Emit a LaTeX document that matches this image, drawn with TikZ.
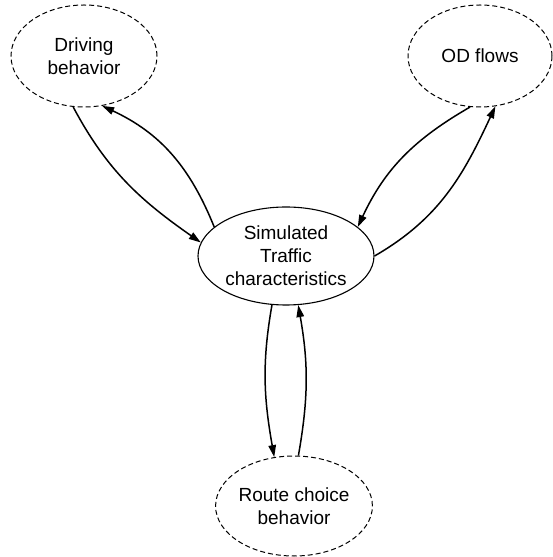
\documentclass[tikz,border=0pt]{standalone}
\usepackage{fontspec}
\setmainfont{Liberation Sans}
\usetikzlibrary{shapes.geometric,arrows.meta}
\begin{document}
\begin{tikzpicture}[x=1pt,y=1pt,
  model/.style={ellipse,draw,line width=1pt,dash pattern=on 5pt off 3pt,
    align=center,font=\fontsize{19}{23}\selectfont,inner sep=0pt},
  core/.style={ellipse,draw,line width=1.1pt,
    align=center,font=\fontsize{19}{23}\selectfont,inner sep=0pt},
  link/.style={line width=1.5pt,-{Triangle[length=12pt,width=7.5pt]}}]
\useasboundingbox (0,0) rectangle (553,557);
% model components
\node[model,minimum width=146pt,minimum height=102pt] (drv) at (84,501) {Driving\\behavior};
\node[model,minimum width=144pt,minimum height=102pt] (od) at (480,501) {OD flows};
\node[core,minimum width=176pt,minimum height=98pt] (sim) at (286,301) {Simulated\\Traffic\\characteristics};
\node[model,minimum width=130pt,minimum height=100pt] (rte) at (294,51) {Route choice\\behavior};
% feedback loops
\draw[link] (drv.258) to[out=-62,in=145] (sim.171);
\draw[link] (sim.158) to[out=112,in=-25] (drv.290);
\draw[link] (sim.0) to[out=30,in=-115] (od.287);
\draw[link] (od.259) to[out=210,in=65] (sim.22);
\draw[link] (sim.254) to[out=260,in=100] (rte.112);
\draw[link] (rte.85) to[out=80,in=280] (sim.284);
\end{tikzpicture}
\end{document}
